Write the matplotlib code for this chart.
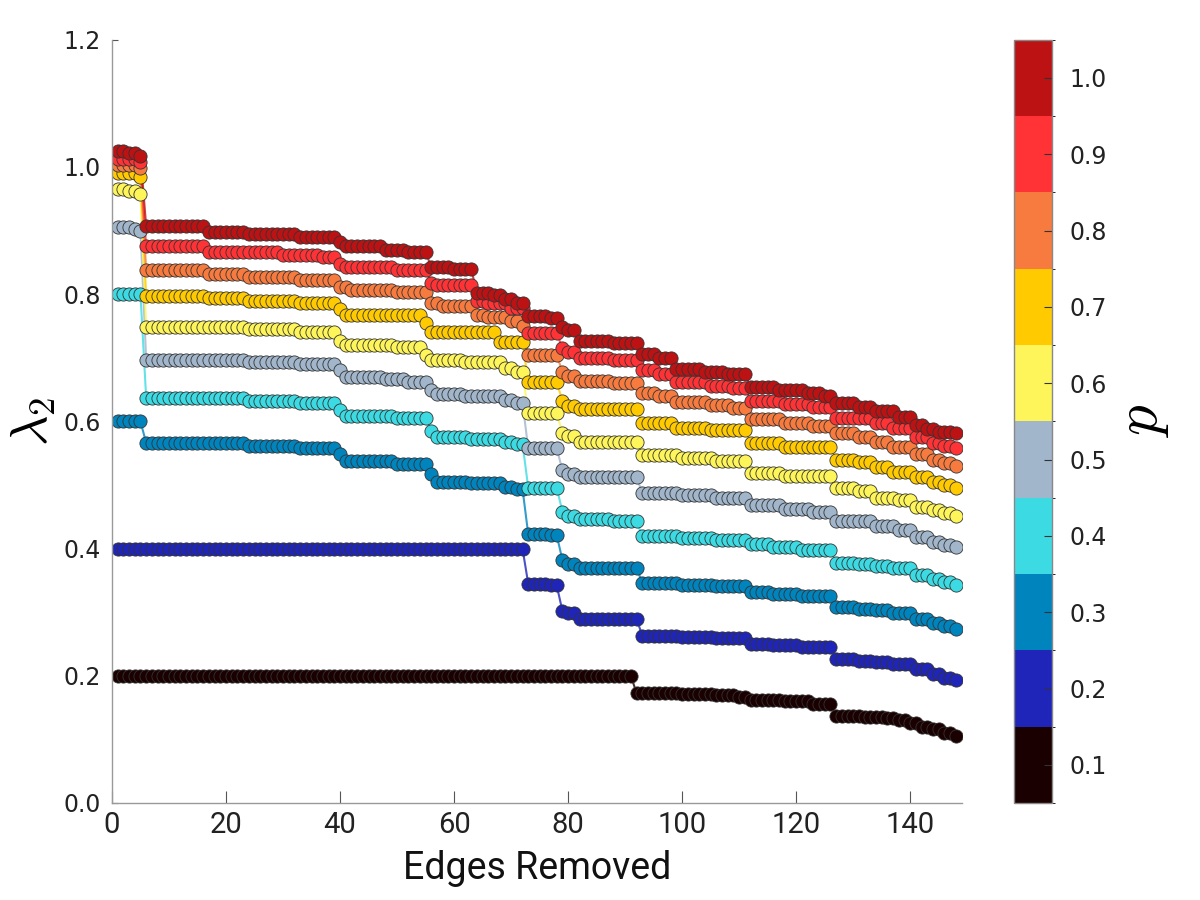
import numpy as np
import matplotlib
matplotlib.use("Agg")
from matplotlib import pyplot as plt
from matplotlib import colors as mcolors
from matplotlib import font_manager as fm
from matplotlib.colorbar import ColorbarBase

# p values and their colours
p_vals = [0.1, 0.2, 0.3, 0.4, 0.5, 0.6, 0.7, 0.8, 0.9, 1.0]
p_colors = ["#1a0000", "#1f25b9", "#0084be", "#3cdbe3", "#a1b6cb",
            "#fef55a", "#ffcb00", "#f77b3f", "#ff3236", "#bc1214"]

n_edges = 148
edges = np.arange(1, n_edges + 1)

# readings of lambda_2: (first edge index, value held from there on)
s01 = [(1, 0.200), (92, 0.173), (100, 0.171), (106, 0.169), (110, 0.167),
       (112, 0.162), (118, 0.160), (123, 0.156), (127, 0.136), (132, 0.135),
       (136, 0.133), (138, 0.130), (140, 0.125), (142, 0.120), (144, 0.117),
       (146, 0.110), (148, 0.106)]
s02 = [(1, 0.400), (73, 0.345), (77, 0.342), (79, 0.302), (80, 0.298),
       (82, 0.290), (93, 0.263), (100, 0.261), (106, 0.260), (112, 0.250),
       (116, 0.248), (121, 0.246), (127, 0.226), (131, 0.224), (134, 0.222),
       (137, 0.219), (141, 0.210), (144, 0.203), (146, 0.197), (148, 0.193)]
s03 = [(1, 0.600), (6, 0.566), (24, 0.562), (33, 0.558), (40, 0.548),
       (41, 0.537), (50, 0.533), (56, 0.518), (57, 0.505), (63, 0.503),
       (69, 0.497), (71, 0.494), (73, 0.423), (77, 0.421), (79, 0.382),
       (80, 0.376), (82, 0.370), (93, 0.346), (100, 0.343), (106, 0.341),
       (112, 0.332), (116, 0.328), (121, 0.325), (127, 0.308), (131, 0.305),
       (134, 0.303), (137, 0.298), (141, 0.289), (144, 0.283), (146, 0.278),
       (148, 0.273)]
s04 = [(1, 0.800), (6, 0.637), (24, 0.632), (33, 0.629), (40, 0.618),
       (41, 0.608), (50, 0.605), (56, 0.585), (57, 0.576), (63, 0.572),
       (69, 0.568), (71, 0.565), (73, 0.496), (79, 0.458), (80, 0.452),
       (82, 0.447), (88, 0.444), (93, 0.419), (100, 0.416), (106, 0.414),
       (112, 0.407), (116, 0.402), (121, 0.398), (127, 0.378), (131, 0.375),
       (134, 0.372), (137, 0.369), (141, 0.359), (144, 0.352), (146, 0.348),
       (148, 0.343)]
s05 = [(1, 0.905), (4, 0.903), (5, 0.900), (6, 0.697), (24, 0.694),
       (33, 0.690), (40, 0.680), (41, 0.670), (48, 0.666), (52, 0.662),
       (56, 0.650), (57, 0.643), (62, 0.640), (69, 0.633), (71, 0.629),
       (73, 0.558), (79, 0.523), (80, 0.518), (82, 0.512), (93, 0.488),
       (100, 0.484), (106, 0.480), (112, 0.468), (118, 0.462), (123, 0.458),
       (127, 0.444), (134, 0.436), (138, 0.430), (141, 0.418), (144, 0.410),
       (146, 0.406), (148, 0.402)]
s06 = [(1, 0.966), (3, 0.963), (5, 0.958), (6, 0.748), (24, 0.745),
       (33, 0.740), (40, 0.727), (41, 0.720), (50, 0.717), (55, 0.705),
       (56, 0.697), (62, 0.694), (69, 0.684), (71, 0.678), (73, 0.613),
       (79, 0.582), (80, 0.577), (82, 0.568), (93, 0.547), (100, 0.543),
       (106, 0.538), (112, 0.519), (118, 0.514), (127, 0.495), (131, 0.491),
       (134, 0.480), (138, 0.476), (141, 0.466), (144, 0.460), (146, 0.456),
       (148, 0.452)]
s07 = [(1, 0.990), (5, 0.985), (6, 0.797), (17, 0.794), (24, 0.790),
       (33, 0.786), (40, 0.776), (41, 0.768), (55, 0.755), (56, 0.741),
       (68, 0.725), (73, 0.662), (79, 0.632), (80, 0.624), (82, 0.620),
       (93, 0.597), (99, 0.590), (105, 0.586), (112, 0.566), (118, 0.560),
       (127, 0.540), (131, 0.536), (134, 0.528), (137, 0.521), (141, 0.512),
       (144, 0.505), (146, 0.500), (148, 0.496)]
s08 = [(1, 1.003), (5, 0.998), (6, 0.838), (17, 0.831), (24, 0.827),
       (33, 0.822), (40, 0.812), (42, 0.806), (50, 0.803), (56, 0.786),
       (58, 0.782), (64, 0.768), (66, 0.764), (70, 0.758), (72, 0.750),
       (73, 0.704), (79, 0.678), (80, 0.672), (82, 0.664), (88, 0.660),
       (93, 0.645), (96, 0.640), (99, 0.631), (105, 0.626), (109, 0.621),
       (112, 0.603), (118, 0.598), (123, 0.592), (127, 0.582), (131, 0.576),
       (134, 0.567), (137, 0.560), (141, 0.548), (144, 0.540), (146, 0.535),
       (148, 0.530)]
s09 = [(1, 1.013), (5, 1.008), (6, 0.875), (17, 0.867), (30, 0.862),
       (37, 0.859), (40, 0.848), (41, 0.843), (50, 0.838), (56, 0.818),
       (57, 0.815), (64, 0.790), (66, 0.786), (70, 0.778), (73, 0.739),
       (79, 0.715), (80, 0.709), (82, 0.700), (88, 0.697), (93, 0.681),
       (96, 0.675), (99, 0.662), (105, 0.656), (109, 0.653), (112, 0.632),
       (118, 0.628), (123, 0.623), (127, 0.606), (134, 0.598), (137, 0.590),
       (141, 0.575), (144, 0.566), (146, 0.562), (148, 0.558)]
s10 = [(1, 1.025), (3, 1.022), (5, 1.018), (6, 0.907), (17, 0.898),
       (24, 0.895), (33, 0.890), (40, 0.882), (41, 0.876), (48, 0.870),
       (52, 0.866), (56, 0.843), (60, 0.840), (64, 0.802), (67, 0.798),
       (69, 0.792), (71, 0.786), (73, 0.765), (77, 0.762), (79, 0.748),
       (80, 0.744), (82, 0.726), (88, 0.724), (93, 0.706), (96, 0.700),
       (99, 0.683), (104, 0.678), (108, 0.674), (112, 0.654), (117, 0.650),
       (122, 0.645), (125, 0.640), (127, 0.629), (131, 0.623), (134, 0.617),
       (138, 0.607), (141, 0.594), (143, 0.588), (145, 0.584), (148, 0.581)]
series = [s01, s02, s03, s04, s05, s06, s07, s08, s09, s10]


def held(readings):
    # value read at each edge count, held until the next reading
    starts = np.array([r[0] for r in readings])
    vals = np.array([r[1] for r in readings])
    idx = np.searchsorted(starts, edges, side="right") - 1
    return vals[idx]


def pick_font(names):
    for n in names:
        try:
            fm.findfont(n, fallback_to_default=False)
            return n
        except Exception:
            pass
    return "DejaVu Sans"


narrow = pick_font(["Liberation Sans Narrow", "DejaVu Sans Condensed", "Roboto", "Open Sans"])

plt.rcParams["mathtext.fontset"] = "cm"

fig = plt.figure(figsize=(12, 9), dpi=100)
ax = fig.add_axes([0.0933, 0.1078, 0.708, 0.848])

for pv, col, s in zip(p_vals, p_colors, series):
    ax.plot(edges, held(s), "-", color=col, lw=1.5, alpha=0.8, zorder=1)
    ax.plot(edges, held(s), "o", color=col, ms=9.5, mec="#333333", mew=0.6, zorder=2)

ax.set_xlim(0, 149)
ax.set_ylim(0, 1.2)
ax.set_yticks([0.0, 0.2, 0.4, 0.6, 0.8, 1.0, 1.2])
ax.set_xticks(range(0, 141, 20))
for sp in ["top", "right"]:
    ax.spines[sp].set_visible(False)
for sp in ["left", "bottom"]:
    ax.spines[sp].set_color("#999999")
    ax.spines[sp].set_linewidth(1.0)
ax.tick_params(axis="y", direction="in", length=4, color="#555555",
               labelsize=17, labelcolor="#222222", pad=8)
ax.tick_params(axis="x", direction="in", length=9, color="#555555",
               labelsize=21, labelcolor="#222222", pad=6)
for lab in ax.get_xticklabels():
    lab.set_family(narrow)
ax.set_xlabel("Edges Removed", fontsize=27, family=narrow, color="#111111", labelpad=8)
ax.set_ylabel(r"$\lambda_2$", fontsize=38, labelpad=4)

cax = fig.add_axes([0.845, 0.1078, 0.032, 0.848])
cmap = mcolors.ListedColormap(p_colors)
bounds = np.arange(0.05, 1.06, 0.1)
norm = mcolors.BoundaryNorm(bounds, cmap.N)
cb = ColorbarBase(cax, cmap=cmap, norm=norm, boundaries=bounds, ticks=p_vals)
cb.set_ticklabels(["%.1f" % v for v in p_vals])
cb.outline.set_edgecolor("#888888")
cb.outline.set_linewidth(1.0)
cax.tick_params(direction="in", length=6, color="#333333", labelsize=17,
                labelcolor="#222222", pad=12)
cb.set_label(r"$p$", fontsize=44, rotation=90, labelpad=4)

fig.savefig("out.png", dpi=100)
